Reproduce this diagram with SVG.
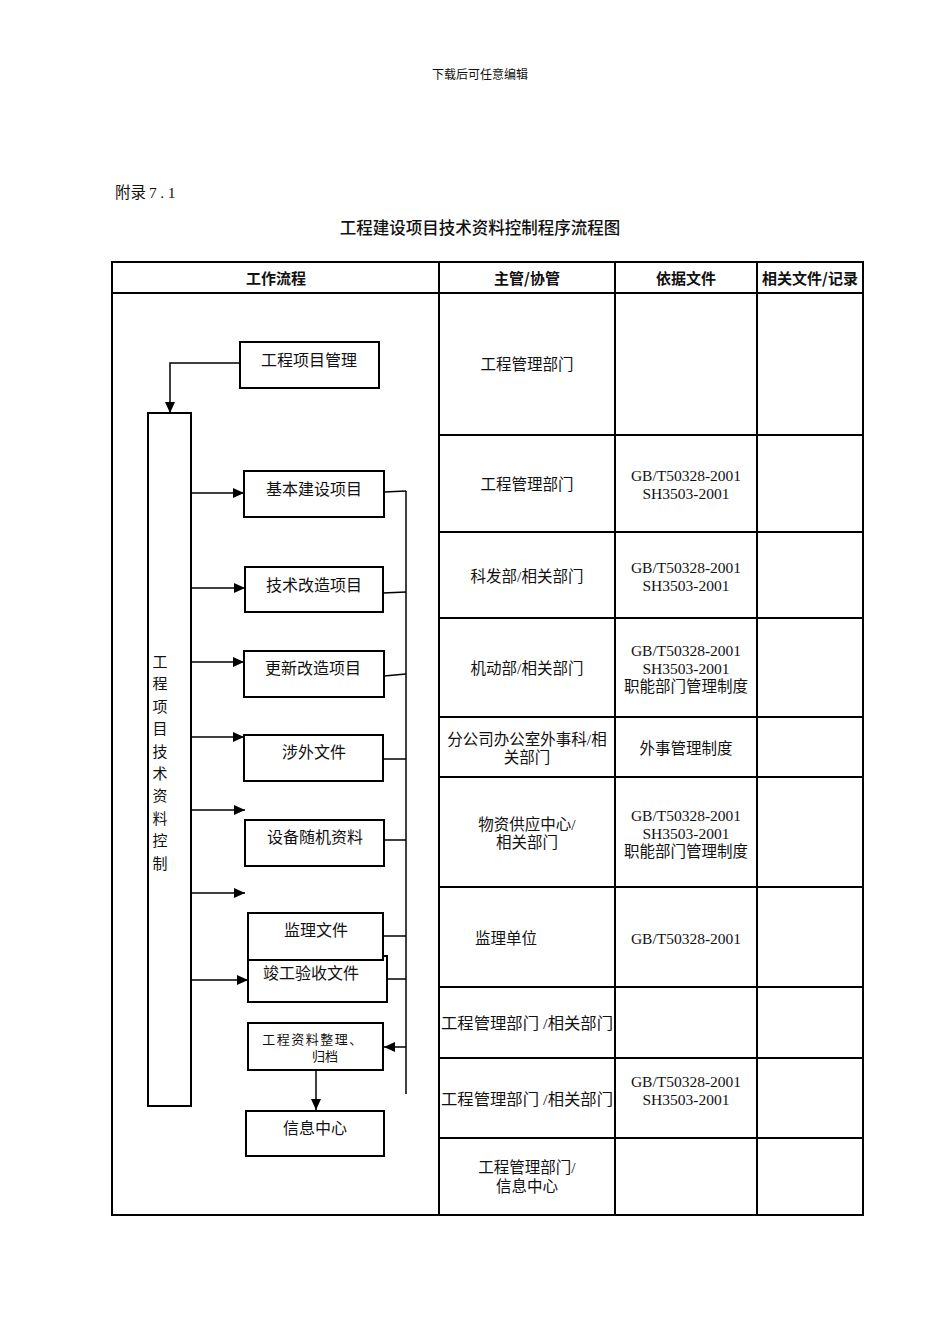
<svg xmlns="http://www.w3.org/2000/svg" width="950" height="1344" viewBox="0 0 950 1344">
<defs>
<marker id="arr" markerUnits="userSpaceOnUse" markerWidth="12" markerHeight="10" refX="11" refY="5" orient="auto">
<path d="M0,0 L11,5 L0,10 z" fill="#000"/>
</marker>
<style>
text{font-family:"Liberation Serif","Noto Sans CJK SC",serif;fill:#111;}
.t{font-size:15.5px;text-anchor:middle;}
.h{font-family:"Noto Sans CJK SC",sans-serif;font-size:15px;font-weight:700;text-anchor:middle;}
.lbl{font-size:16px;text-anchor:middle;}
.box{fill:#fff;stroke:#000;stroke-width:2;}
.grid{stroke:#000;stroke-width:2;fill:none;}
.c{stroke:#000;stroke-width:1.5;fill:none;}
.a{stroke:#000;stroke-width:1.5;fill:none;marker-end:url(#arr);}
</style>
</defs>
<rect width="950" height="1344" fill="#fff"/>
<text x="480" y="79" style="font-size:12px;text-anchor:middle;">下载后可任意编辑</text>
<text x="115" y="198" style="font-size:15.5px;">附录<tspan style="letter-spacing:3.5px;" dx="3">7.1</tspan></text>
<text x="480" y="234" style="font-family:'Noto Sans CJK SC',sans-serif;font-size:16.5px;font-weight:500;text-anchor:middle;">工程建设项目技术资料控制程序流程图</text>

<g id="table">
<rect class="grid" x="112" y="262" width="751" height="953"/>
<line class="grid" x1="112" y1="293" x2="863" y2="293"/>
<line class="grid" x1="439" y1="262" x2="439" y2="1215"/>
<line class="grid" x1="615" y1="262" x2="615" y2="1215"/>
<line class="grid" x1="757" y1="262" x2="757" y2="1215"/>
<line class="grid" x1="439" y1="435" x2="863" y2="435"/>
<line class="grid" x1="439" y1="532" x2="863" y2="532"/>
<line class="grid" x1="439" y1="618" x2="863" y2="618"/>
<line class="grid" x1="439" y1="717" x2="863" y2="717"/>
<line class="grid" x1="439" y1="777" x2="863" y2="777"/>
<line class="grid" x1="439" y1="887" x2="863" y2="887"/>
<line class="grid" x1="439" y1="987" x2="863" y2="987"/>
<line class="grid" x1="439" y1="1058" x2="863" y2="1058"/>
<line class="grid" x1="439" y1="1138" x2="863" y2="1138"/>
<text class="h" x="276" y="284">工作流程</text>
<text class="h" x="527" y="284">主管/协管</text>
<text class="h" x="686" y="284">依据文件</text>
<text class="h" x="810" y="284">相关文件/记录</text>

<text class="t" x="527" y="370">工程管理部门</text>
<text class="t" x="527" y="490">工程管理部门</text>
<text class="t" x="686" y="481">GB/T50328-2001</text>
<text class="t" x="686" y="499">SH3503-2001</text>
<text class="t" x="527" y="582">科发部/相关部门</text>
<text class="t" x="686" y="573">GB/T50328-2001</text>
<text class="t" x="686" y="591">SH3503-2001</text>
<text class="t" x="527" y="674">机动部/相关部门</text>
<text class="t" x="686" y="656">GB/T50328-2001</text>
<text class="t" x="686" y="674">SH3503-2001</text>
<text class="t" x="686" y="692">职能部门管理制度</text>
<text class="t" x="527" y="745">分公司办公室外事科/相</text>
<text class="t" x="527" y="763">关部门</text>
<text class="t" x="686" y="754">外事管理制度</text>
<text class="t" x="527" y="830">物资供应中心/</text>
<text class="t" x="527" y="848">相关部门</text>
<text class="t" x="686" y="821">GB/T50328-2001</text>
<text class="t" x="686" y="839">SH3503-2001</text>
<text class="t" x="686" y="857">职能部门管理制度</text>
<text class="t" x="506" y="944">监理单位</text>
<text class="t" x="686" y="944">GB/T50328-2001</text>
<text class="t" x="527" y="1029" textLength="172" lengthAdjust="spacingAndGlyphs">工程管理部门 /相关部门</text>
<text class="t" x="527" y="1105" textLength="172" lengthAdjust="spacingAndGlyphs">工程管理部门 /相关部门</text>
<text class="t" x="686" y="1087">GB/T50328-2001</text>
<text class="t" x="686" y="1105">SH3503-2001</text>
<text class="t" x="527" y="1173">工程管理部门/</text>
<text class="t" x="527" y="1192">信息中心</text>
</g>

<g id="connectors">
<path class="a" d="M240,363 H170 V413"/>
<path class="a" d="M191,493 H244"/>
<path class="a" d="M191,588 H245"/>
<path class="a" d="M191,662 H244"/>
<path class="a" d="M191,737 H244"/>
<path class="a" d="M191,810 H245"/>
<path class="a" d="M191,893 H245"/>
<path class="a" d="M191,980 H248"/>
<path class="a" d="M406,1047 H384"/>
<path class="a" d="M316,1070 V1110"/>
<path class="c" d="M384,492 L406,491"/>
<path class="c" d="M383,593 L406,592"/>
<path class="c" d="M384,676 L406,674"/>
<path class="c" d="M383,759 H406"/>
<path class="c" d="M384,840 H406"/>
<path class="c" d="M383,936 H406"/>
<path class="c" d="M387,979 H406"/>
<path class="c" d="M406,491 V1094"/>
</g>

<g id="n-manage">
<rect class="box" x="240" y="342" width="139" height="46"/>
<text class="lbl" x="309" y="366">工程项目管理</text>
</g>
<g id="n-control">
<rect class="box" x="148" y="413" width="43" height="693"/>
<g style="font-size:15px;text-anchor:middle;">
<text x="160" y="667">工</text>
<text x="160" y="689">程</text>
<text x="160" y="712">项</text>
<text x="160" y="734">目</text>
<text x="160" y="757">技</text>
<text x="160" y="779">术</text>
<text x="160" y="801">资</text>
<text x="160" y="824">料</text>
<text x="160" y="846">控</text>
<text x="160" y="869">制</text>
</g>
</g>
<g id="n-basic">
<rect class="box" x="244" y="471" width="140" height="46"/>
<text class="lbl" x="314" y="495">基本建设项目</text>
</g>
<g id="n-tech">
<rect class="box" x="245" y="567" width="138" height="45"/>
<text class="lbl" x="314" y="591">技术改造项目</text>
</g>
<g id="n-renew">
<rect class="box" x="244" y="651" width="140" height="46"/>
<text class="lbl" x="313" y="674">更新改造项目</text>
</g>
<g id="n-foreign">
<rect class="box" x="244" y="735" width="139" height="46"/>
<text class="lbl" x="314" y="758">涉外文件</text>
</g>
<g id="n-equip">
<rect class="box" x="245" y="820" width="139" height="46"/>
<text class="lbl" x="315" y="843">设备随机资料</text>
</g>
<g id="n-accept">
<rect class="box" x="248" y="956" width="139" height="46"/>
<text class="lbl" x="311" y="979">竣工验收文件</text>
</g>
<g id="n-supervise">
<rect class="box" x="248" y="913" width="135" height="47"/>
<text class="lbl" x="316" y="936">监理文件</text>
</g>
<g id="n-archive">
<rect class="box" x="248" y="1023" width="135" height="47"/>
<text x="313" y="1044" style="font-size:13px;text-anchor:middle;letter-spacing:1.5px;">工程资料整理、</text>
<text x="325" y="1061" style="font-size:13px;text-anchor:middle;">归档</text>
</g>
<g id="n-info">
<rect class="box" x="246" y="1111" width="138" height="45"/>
<text class="lbl" x="315" y="1134">信息中心</text>
</g>
</svg>
